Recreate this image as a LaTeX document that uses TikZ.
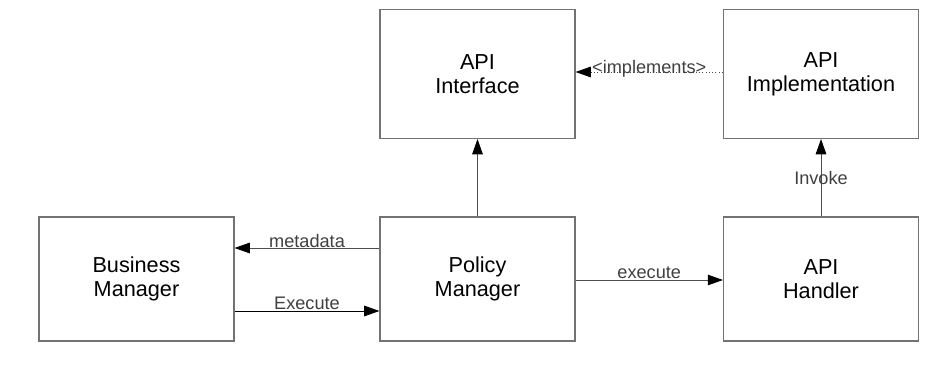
\documentclass[tikz,border=0pt]{standalone}
\usepackage{fontspec}
\setmainfont{Liberation Sans}
\usetikzlibrary{arrows.meta}
\begin{document}
\begin{tikzpicture}[x=0.03cm, y=-0.03cm,
  box/.style={draw=black!55, line width=0.9pt, inner sep=0pt, align=center,
    minimum width=5.85cm, font=\fontsize{18.5}{21.5}\selectfont},
  topbox/.style={box, minimum height=3.87cm},
  lowbox/.style={box, minimum height=3.72cm},
  conn/.style={draw=black!70, line width=0.8pt,
    -{Triangle[length=13pt, width=9pt, color=black]}},
  lbl/.style={font=\fontsize{15.5}{18}\selectfont, text=black!75, inner sep=0pt}
]
\useasboundingbox (0,0) rectangle (935,369);

% boxes; the two text lines sit a little below the centre
\node[topbox] (ai) at (477.5,74) {\raisebox{-1pt}{API}\\Interface};
\node[topbox] (impl) at (821,74) {\raisebox{-1pt}{API}\\Implementation};
\node[lowbox] (bm) at (136.5,279) {\raisebox{-1pt}{Business}\\Manager};
\node[lowbox] (pm) at (477.5,279) {\raisebox{-1pt}{Policy}\\Manager};
\node[lowbox] (ah) at (821,279) {\raisebox{-1pt}{API}\\Handler};

% connectors
\draw[conn, dotted] (impl.west |- {(0,72)}) -- (ai.east |- {(0,72)})
  node[lbl, pos=0.5, yshift=0.1cm] {<implements>};
\draw[conn] (pm.north) -- (ai.south);
\draw[conn] (pm.west |- {(0,248)}) -- (bm.east |- {(0,248)})
  node[lbl, pos=0.5, yshift=0.2cm] {metadata};
\draw[conn, draw=black] (bm.east |- {(0,311)}) -- (pm.west |- {(0,311)})
  node[lbl, pos=0.5, yshift=0.22cm] {Execute};
\draw[conn] (pm.east |- {(0,280)}) -- (ah.west |- {(0,280)})
  node[lbl, pos=0.5, yshift=0.22cm] {execute};
\draw[conn] (ah.north) -- (impl.south)
  node[lbl, pos=0.5] {Invoke};
\end{tikzpicture}
\end{document}
